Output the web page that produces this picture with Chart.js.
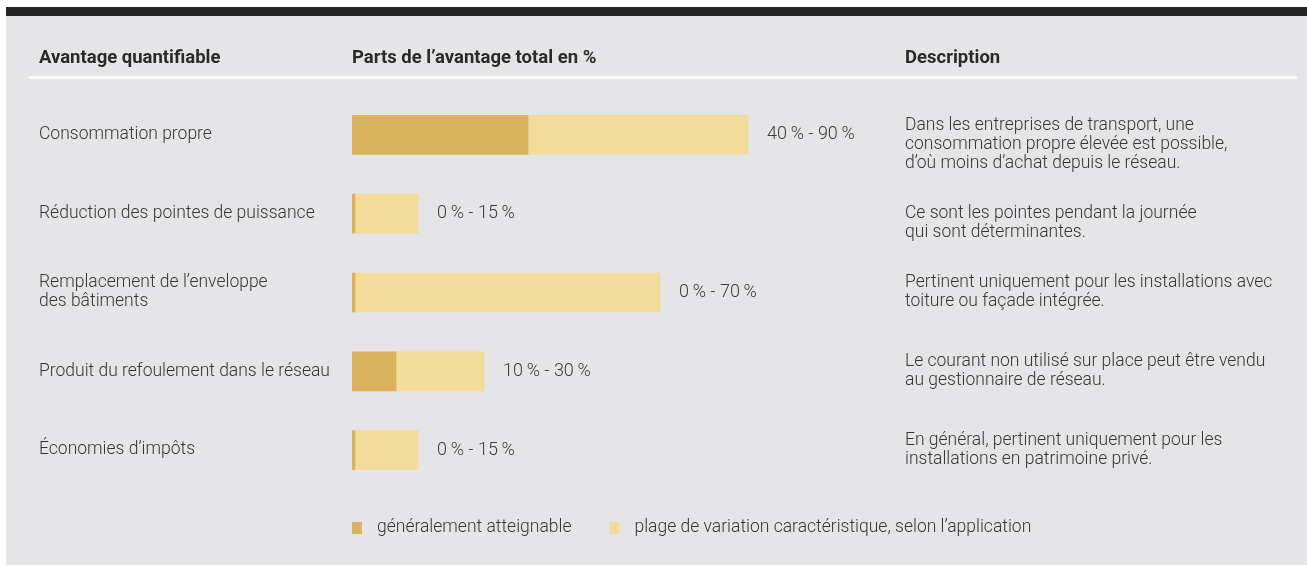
<!DOCTYPE html>
<html lang="fr">
<head>
<meta charset="utf-8">
<title>Parts de l’avantage total</title>
<script src="https://cdn.jsdelivr.net/npm/chart.js@4.4.1/dist/chart.umd.min.js"></script>
<style>
  html, body { margin: 0; padding: 0; background: #fff; }
  canvas { display: block; }
</style>
</head>
<body>
<canvas id="chart" width="1307" height="565"></canvas>
<script>
// table content
const headers = ['Avantage quantifiable', 'Parts de l’avantage total en %', 'Description'];
const categories = [
  'Consommation propre',
  'Réduction des pointes de puissance',
  ['Remplacement de l’enveloppe', 'des bâtiments'],
  'Produit du refoulement dans le réseau',
  'Économies d’impôts',
];
// rows 1 and 2 start with an empty line so the text sits a bit lower, as in the print
const descriptions = [
  ['', 'Dans les entreprises de transport, une', 'consommation propre élevée est possible,', 'd’où moins d’achat depuis le réseau.'],
  ['', 'Ce sont les pointes pendant la journée', 'qui sont déterminantes.'],
  ['Pertinent uniquement pour les installations avec', 'toiture ou façade intégrée.'],
  ['Le courant non utilisé sur place peut être vendu', 'au gestionnaire de réseau.'],
  ['En général, pertinent uniquement pour les', 'installations en patrimoine privé.'],
];
// shares in % : low end = generally attainable, high end = typical range
const rangeLow = [40, 0, 0, 10, 0];
const rangeHigh = [90, 15, 70, 30, 15];
const seriesLabels = ['généralement atteignable', 'plage de variation caractéristique, selon l’application'];

const DARK = '#d9b35e';
const LIGHT = '#f3db9c';
const TEXT = '#363636';
const FONT = 'Roboto, "Open Sans", sans-serif';
const bodyFont = { family: FONT, size: 17.5, weight: '300', lineHeight: 1.09 };

const tablePlugin = {
  id: 'table',
  beforeDraw(chart) {
    const { ctx } = chart;
    ctx.save();
    ctx.fillStyle = '#fff';
    ctx.fillRect(0, 0, chart.width, chart.height);
    ctx.fillStyle = '#e5e5e7';
    ctx.fillRect(6, 7, chart.width - 6, chart.height - 7);
    ctx.fillStyle = '#262626';
    ctx.fillRect(6, 7, chart.width - 6, 9);
    ctx.fillStyle = '#fbfbfb';
    ctx.fillRect(29, 76, 1268, 3);

    ctx.fillStyle = '#2a2a2a';
    ctx.font = `700 18.5px ${FONT}`;
    ctx.textBaseline = 'alphabetic';
    const ys = chart.scales.y2;
    [39, chart.chartArea.left, ys.left + ys.options.ticks.padding].forEach((x, i) => {
      ctx.fillText(headers[i], x, 63);
    });
    ctx.restore();
  },
  afterDatasetsDraw(chart) {
    const { ctx } = chart;
    const bars = chart.getDatasetMeta(1).data;
    ctx.save();
    ctx.fillStyle = '#3c3c3c';
    ctx.font = `300 18px ${FONT}`;
    ctx.textBaseline = 'middle';
    bars.forEach((bar, i) => {
      ctx.fillText(`${rangeLow[i]}\u2009% - ${rangeHigh[i]}\u2009%`, bar.x + 19, bar.y);
    });
    ctx.restore();
  },
  afterDraw(chart) {
    // legend under the bars
    const { ctx } = chart;
    ctx.save();
    ctx.font = `300 17.5px ${FONT}`;
    ctx.textBaseline = 'middle';
    let x = chart.chartArea.left;
    const y = 528;
    chart.data.datasets.forEach((ds) => {
      ctx.fillStyle = ds.backgroundColor;
      ctx.fillRect(x, y - 6, 10, 12);
      ctx.fillStyle = TEXT;
      ctx.fillText(ds.label, x + 25, y);
      x += 25 + ctx.measureText(ds.label).width + 38;
    });
    ctx.restore();
  },
};

new Chart(document.getElementById('chart'), {
  type: 'bar',
  data: {
    labels: categories,
    datasets: [
      {
        label: seriesLabels[0],
        data: rangeLow,
        backgroundColor: DARK,
        minBarLength: 3,
        order: 0,
      },
      {
        label: seriesLabels[1],
        data: rangeLow.map((lo, i) => [lo, rangeHigh[i]]),
        backgroundColor: LIGHT,
        order: 1,
      },
    ],
  },
  options: {
    indexAxis: 'y',
    responsive: false,
    animation: false,
    datasets: { bar: { grouped: false, barThickness: 39 } },
    layout: { padding: { left: 39, right: 0, top: 95.5, bottom: 75.5 } },
    scales: {
      // the value axis runs past 100 so the description column starts where the print has it
      x: { min: 0, max: 125, display: false },
      y: {
        position: 'left',
        grid: { display: false, drawTicks: false },
        border: { display: false },
        ticks: { crossAlign: 'far', autoSkip: false, color: TEXT, font: bodyFont },
        afterFit: (s) => { s.width = 313; },
      },
      y2: {
        type: 'category',
        labels: descriptions,
        position: 'right',
        offset: true,
        grid: { display: false, drawTicks: false },
        border: { display: false },
        ticks: { crossAlign: 'near', autoSkip: false, padding: 3, color: TEXT, font: bodyFont },
        afterFit: (s) => { s.width = 405; },
      },
    },
    plugins: {
      legend: { display: false },
      tooltip: { enabled: false },
    },
  },
  plugins: [tablePlugin],
});
</script>
</body>
</html>
